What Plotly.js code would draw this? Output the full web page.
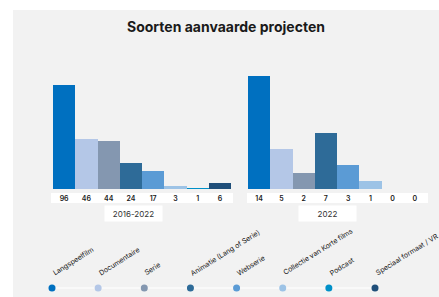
<!DOCTYPE html>
<html>
<head>
<meta charset="utf-8">
<script src="https://cdn.plot.ly/plotly-3.0.1.min.js"></script>
<style>html,body{margin:0;padding:0;background:#fff;}#chart{width:439px;height:297px;}</style>
</head>
<body>
<div id="chart"></div>
<script>
var categories = ["Langspeelfilm", "Documentaire", "Serie", "Animatie (Lang of Serie)", "Webserie", "Collectie van Korte films", "Podcast", "Speciaal formaat / VR"];
var colors = ["#0070C0", "#B4C7E7", "#8497B0", "#2E6B98", "#5B9BD5", "#9DC3E6", "#0090C8", "#1F4E79"];
var periods = ["2016-2022", "2022"];
var values2016_2022 = [96, 46, 44, 24, 17, 3, 1, 6];
var values2022 = [14, 5, 2, 7, 3, 1, 0, 0];

var W = 439, H = 297;
function px(x){ return x / W; }
function py(y){ return 1 - y / H; }
var idx = categories.map(function(_, i){ return i; });
var font = "Inter, 'Noto Sans', sans-serif";

var traces = [
  {type: "bar", x: idx, y: values2016_2022, marker: {color: colors}, width: 1, xaxis: "x", yaxis: "y", hoverinfo: "none"},
  {type: "bar", x: idx, y: values2022, marker: {color: colors}, width: 1, xaxis: "x2", yaxis: "y2", hoverinfo: "none"},
  {type: "scatter", mode: "lines+markers", x: idx, y: idx.map(function(){ return 0; }), xaxis: "x3", yaxis: "y3",
   line: {color: "#ffffff", width: 1.2}, marker: {color: colors, size: 7}, cliponaxis: false, hoverinfo: "none"}
];

var barYDomain = [py(189), py(76)];
function catAxis(domain, vals){
  return {domain: domain, range: [-0.5, 7.5], showgrid: false, zeroline: false, showline: false,
    tickmode: "array", tickvals: idx, ticktext: vals.map(String), ticks: "", ticklabelstandoff: 4,
    tickfont: {family: font, size: 7, color: "#1a1a1a", weight: 600}, fixedrange: true};
}
var layout = {
  width: W, height: H,
  margin: {l: 0, r: 0, t: 0, b: 0},
  paper_bgcolor: "#ffffff", plot_bgcolor: "rgba(0,0,0,0)",
  showlegend: false, bargap: 0,
  title: {text: "<b>Soorten aanvaarde projecten</b>", font: {family: font, size: 14, color: "#1a1a1a"}, x: px(226), xanchor: "center", y: py(27), yanchor: "middle"},
  xaxis: catAxis([px(53), px(231)], values2016_2022),
  xaxis2: catAxis([px(248), px(426)], values2022),
  yaxis: {domain: barYDomain, range: [0, 96 * 113 / 104], visible: false, fixedrange: true},
  yaxis2: {domain: barYDomain, range: [0, 14], visible: false, anchor: "x2", fixedrange: true},
  xaxis3: {domain: [px(52), px(375)], range: [0, 7], visible: false, anchor: "y3"},
  yaxis3: {domain: [py(292), py(284)], range: [-1, 1], visible: false, anchor: "x3"},
  shapes: [
    {type: "rect", xref: "paper", yref: "paper", x0: px(13), x1: 1, y0: 0, y1: py(10), fillcolor: "#f2f2f2", line: {width: 0}, layer: "below"},
    {type: "rect", xref: "paper", yref: "paper", x0: px(51), x1: px(233), y0: py(203), y1: py(193), fillcolor: "#ffffff", line: {width: 0}, layer: "below"},
    {type: "rect", xref: "paper", yref: "paper", x0: px(247), x1: px(428), y0: py(203), y1: py(193), fillcolor: "#ffffff", line: {width: 0}, layer: "below"}
  ],
  annotations: []
};
layout.xaxis2.anchor = "y2";
layout.yaxis.anchor = "x";

var boxes = [[106, 161], [300, 355]];
periods.forEach(function(p, i){
  layout.annotations.push({text: p, xref: "paper", yref: "paper", x: px((boxes[i][0] + boxes[i][1]) / 2), y: py(213.5),
    xanchor: "center", yanchor: "middle", showarrow: false, bgcolor: "#ffffff", width: 55, height: 13,
    font: {family: font, size: 8, color: "#333"}});
});
categories.forEach(function(c, i){
  layout.annotations.push({text: c, xref: "x3", yref: "paper", x: i, y: py(280), xshift: -4,
    xanchor: "left", yanchor: "bottom", showarrow: false, textangle: -32,
    font: {family: font, size: 7, color: "#1a1a1a"}});
});

Plotly.newPlot("chart", traces, layout, {displayModeBar: false, staticPlot: true});
</script>
</body>
</html>
